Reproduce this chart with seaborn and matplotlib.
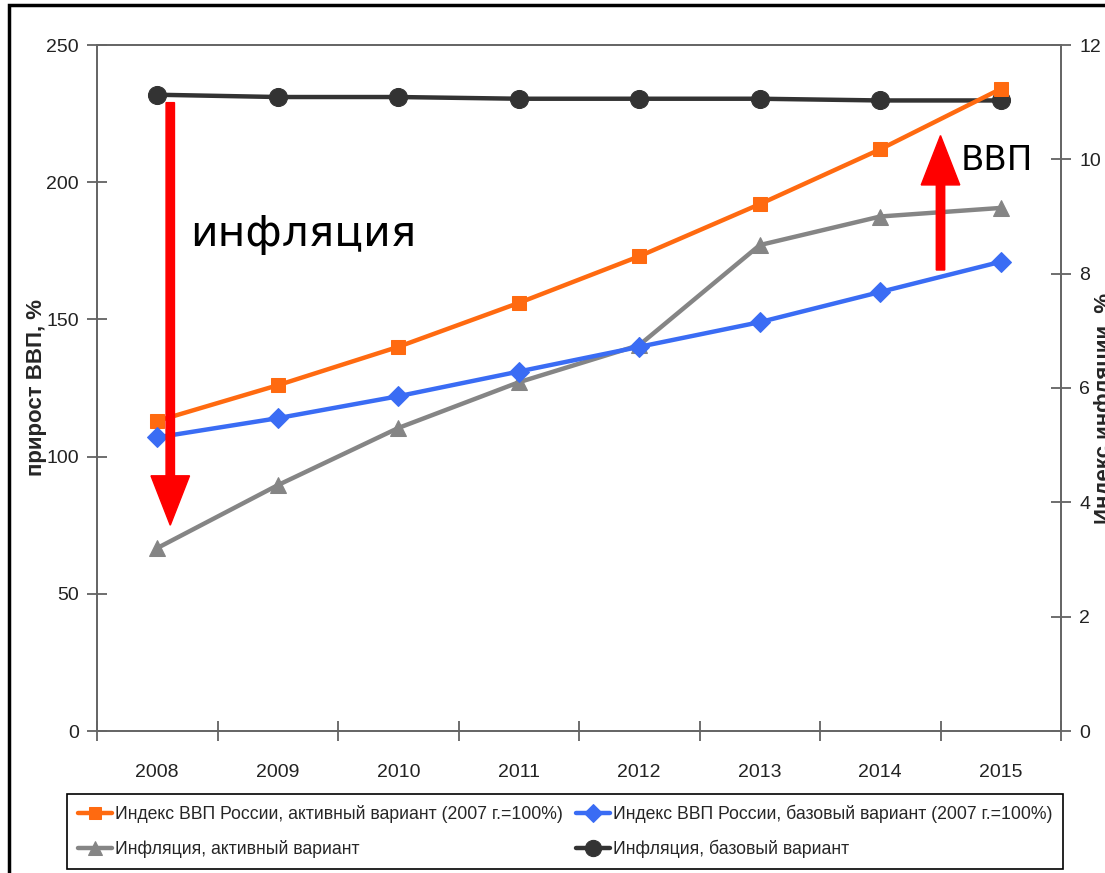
import numpy as np
import pandas as pd
import matplotlib
matplotlib.use('Agg')
import matplotlib.pyplot as plt
from matplotlib import font_manager
from matplotlib.patches import Rectangle
import seaborn as sns

# data
years = ['2008', '2009', '2010', '2011', '2012', '2013', '2014', '2015']
gdp_active = [113, 126, 140, 156, 173, 192, 212, 234]
gdp_base = [107, 114, 122, 131, 140, 149, 160, 171]
infl_active = [3.2, 4.3, 5.3, 6.1, 6.75, 8.5, 9.0, 9.15]
infl_base = [11.13, 11.09, 11.09, 11.06, 11.06, 11.06, 11.03, 11.03]
series_names = ['Индекс ВВП России, активный вариант (2007 г.=100%)',
                'Индекс ВВП России, базовый вариант (2007 г.=100%)',
                'Инфляция, активный вариант',
                'Инфляция, базовый вариант']
left_ticks = [0, 50, 100, 150, 200, 250]
right_ticks = [0, 2, 4, 6, 8, 10, 12]

sns.set_style('ticks')
names = {f.name for f in font_manager.fontManager.ttflist}
narrow = 'Liberation Sans Narrow' if 'Liberation Sans Narrow' in names else 'Liberation Sans'
plt.rcParams['font.family'] = [narrow, 'DejaVu Sans']

fig = plt.figure(figsize=(11.05, 8.73), dpi=100)
ax = fig.add_axes([97 / 1105, 1 - 731 / 873, (1061 - 97) / 1105, (731 - 45) / 873])
ax2 = ax.twinx()
ax.set_zorder(ax2.get_zorder() + 1)
ax.patch.set_visible(False)

xi = np.arange(len(years))
df = pd.DataFrame({'x': xi, 'ga': gdp_active, 'gb': gdp_base, 'ia': infl_active, 'ib': infl_base})

sns.lineplot(data=df, x='x', y='ga', ax=ax, color='#ff6a10', linewidth=3.2, marker='s',
             markersize=10, markeredgecolor='#ff6a10', label=series_names[0])
sns.lineplot(data=df, x='x', y='gb', ax=ax, color='#3a6cf4', linewidth=3.2, marker='D',
             markersize=10, markeredgecolor='#3a6cf4', label=series_names[1])
sns.lineplot(data=df, x='x', y='ia', ax=ax2, color='#858585', linewidth=3.2, marker='^',
             markersize=11, markeredgecolor='#858585', label=series_names[2])
sns.lineplot(data=df, x='x', y='ib', ax=ax2, color='#333333', linewidth=3.2, marker='o',
             markersize=13, markeredgecolor='#333333', label=series_names[3])
for a in (ax, ax2):
    if a.get_legend() is not None:
        a.get_legend().remove()

ax.set_xlim(-0.5, len(years) - 0.5)
ax.set_ylim(0, 250)
ax2.set_ylim(0, 12)
ax.set_yticks(left_ticks)
ax2.set_yticks(right_ticks)
ax.set_xticks(xi)
ax.set_xticklabels(years)
ax.set_xticks(np.arange(len(years) + 1) - 0.5, minor=True)
ax.tick_params(axis='x', which='major', length=0, pad=24, labelsize=14, labelcolor='#222222')
ax.tick_params(axis='x', which='minor', length=14, direction='inout', color='#555555', width=1.2)
ax.tick_params(axis='y', length=14, direction='inout', color='#555555', width=1.2,
               labelsize=14, labelcolor='#222222', pad=6)
ax2.tick_params(axis='y', length=14, direction='inout', color='#555555', width=1.2,
                labelsize=14, labelcolor='#222222', pad=6)
ax.set_xlabel('')
ax.set_ylabel('прирост ВВП, %', fontsize=16, fontweight='bold', family='Liberation Sans')
ax2.set_ylabel('Индекс инфляции, %', fontsize=16, fontweight='bold', family='Liberation Sans')
ax.yaxis.set_label_coords(-0.052, 0.5)
ax2.yaxis.set_label_coords(1.034, 0.47)
for a in (ax, ax2):
    for s in a.spines.values():
        s.set_color('#666666')
        s.set_linewidth(1.3)

# red arrows and captions
ax.arrow(0.108, 229, 0, 75 - 229, width=0.07, head_width=0.32, head_length=18,
         length_includes_head=True, color='#ff0000', zorder=10)
ax.arrow(6.5, 168, 0, 217 - 168, width=0.07, head_width=0.32, head_length=18,
         length_includes_head=True, color='#ff0000', zorder=10)
ax.text(0.27, 181, 'инфляция', fontsize=30.5, family='DejaVu Sans', va='center', ha='left', color='black')
ax.text(6.67, 208, 'ВВП', fontsize=24.5, family='DejaVu Sans', va='center', ha='left', color='black')

h1, l1 = ax.get_legend_handles_labels()
h2, l2 = ax2.get_legend_handles_labels()
handles = [h1[0], h2[0], h1[1], h2[1]]
labels = [l1[0], l2[0], l1[1], l2[1]]
leg = ax.legend(handles, labels, ncol=2, loc='lower left', mode='expand',
                bbox_to_anchor=(-0.031, -0.2012, 1.033, 0.118), fontsize=12.7, frameon=True,
                fancybox=False, framealpha=1, edgecolor='black', borderaxespad=0,
                handlelength=1.95, handletextpad=0.15, columnspacing=0.5, borderpad=0.6,
                labelspacing=0.95, markerscale=0.9)
leg.get_frame().set_linewidth(1.2)

# outer frame of the slide
fig.patches.append(Rectangle((9 / 1105, -0.1), 1.2, 1 - 5 / 873 + 0.1, transform=fig.transFigure,
                             fill=False, edgecolor='black', linewidth=2.5))

fig.savefig('out.png', dpi=100)
